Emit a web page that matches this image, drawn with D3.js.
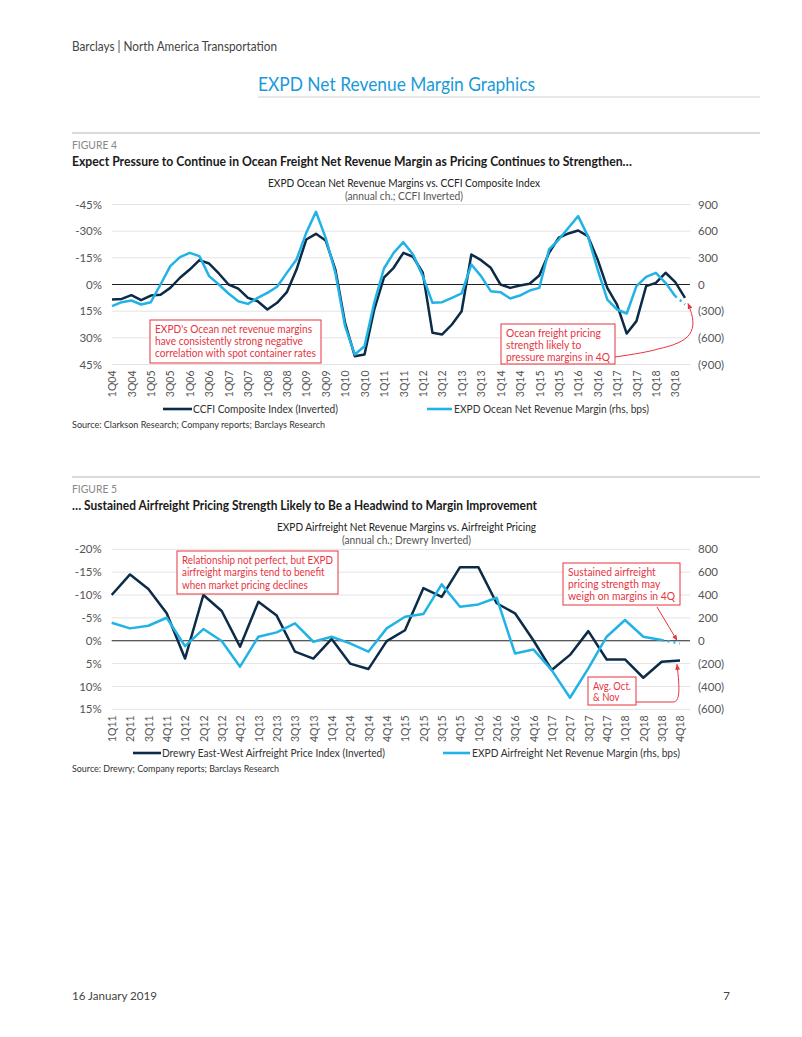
<!DOCTYPE html>
<html><head><meta charset="utf-8">
<script src="https://cdn.jsdelivr.net/npm/d3@7"></script>
<style>
html,body{margin:0;padding:0;background:#fff;}
svg{display:block;font-family:Lato,"Open Sans",sans-serif;}
</style></head>
<body>
<svg id="page" width="802" height="1037"></svg>
<script>
// ---------- DATA ----------
// Figure 4: quarterly 1Q04 .. 4Q18
const oceanQuarters = [];
for (let yr = 4; yr <= 18; yr++) for (let q = 1; q <= 4; q++) oceanQuarters.push(q + "Q" + String(yr).padStart(2, "0"));
// CCFI composite index, annual % change (plotted on inverted left axis)
const ccfiChange = [8.4, 8.1, 6.0, 8.8, 6.2, 5.8, 1.9, -3.8, -8.4, -13.7, -11.8, -6.2, 0, 2.3, 7.5, 9.4,
  14.1, 10.3, 4.3, -8.4, -25.3, -28.5, -24.8, -8.4, 21.6, 40.3, 39.4, 14.1, -3.8, -9.4, -17.8, -15.6,
  -6.6, 27.2, 28.1, 22.5, 15.0, -16.9, -13.7, -9.4, 0, 1.9, 0.6, -0.4, -5.1, -17.8, -26.3, -28.7,
  -30.4, -27.2, -14.1, 1.9, 11.3, 27.6, 20.6, 0.9, -0.9, -6.6, -1.3, 7.5];
// EXPD ocean net revenue margin, annual change (bps, rhs)
const oceanMarginBps = [-244, -199, -180, -225, -199, 0, 206, 308, 356, 319, 94, 0, -101, -188, -218, -150,
  -94, -26, 131, 281, 581, 818, 525, 131, -469, -788, -694, -206, 180, 356, 476, 338,
  94, -206, -199, -150, -101, 225, 94, -75, -86, -158, -124, -68, -38, 394, 506, 638,
  769, 544, 169, -169, -281, -326, -19, 86, 131, 19, -131, -225];
const oceanLeftTicks = [-45, -30, -15, 0, 15, 30, 45];
const oceanRightTicks = [900, 600, 300, 0, -300, -600, -900];

// Figure 5: quarterly 1Q11 .. 4Q18
const airQuarters = [];
for (let yr = 11; yr <= 18; yr++) for (let q = 1; q <= 4; q++) airQuarters.push(q + "Q" + yr);
// Drewry East-West airfreight price index, annual % change (inverted left axis)
const drewryChange = [-10.0, -14.5, -11.3, -6.0, 3.9, -10.0, -6.5, 1.3, -8.5, -5.5, 2.4, 3.9, -0.4, 5.0, 6.2, 0.1,
  -2.3, -11.5, -9.6, -16.1, -16.1, -8.2, -6.0, -0.1, 6.4, 3.1, -2.1, 4.1, 4.1, 8.1, 4.6, 4.3];
// EXPD airfreight net revenue margin, annual change (bps, rhs)
const airMarginBps = [157, 108, 131, 201, -47, 102, -3, -227, 35, 73, 152, -9, 35, -23, -96, 108,
  210, 233, 493, 297, 318, 376, -111, -76, -257, -499, -242, 35, 181, 35, 6, -23];
const airLeftTicks = [-20, -15, -10, -5, 0, 5, 10, 15];
const airRightTicks = [800, 600, 400, 200, 0, -200, -400, -600];

// ---------- STYLE ----------
const DARK = "#0c2b47", LIGHT = "#22b3e6", RED = "#e8343f", GRID = "#e3e3e3";
const svg = d3.select("#page");
const defs = svg.append("defs");
defs.append("marker").attr("id", "arr").attr("viewBox", "0 0 10 10").attr("refX", 9).attr("refY", 5)
  .attr("markerWidth", 6).attr("markerHeight", 6).attr("orient", "auto-start-reverse")
  .append("path").attr("d", "M0,1 L10,5 L0,9 z").attr("fill", RED);

function txt(g, x, y, s, o = {}) {
  const t = g.append("text").attr("x", x).attr("y", y).text(s)
    .attr("font-size", o.size || 11).attr("fill", o.fill || "#333")
    .attr("text-anchor", o.anchor || "start");
  if (o.weight) t.attr("font-weight", o.weight);
  if (o.len) t.attr("textLength", o.len).attr("lengthAdjust", "spacingAndGlyphs");
  return t;
}
const pct = d => d + "%";
const bps = d => d < 0 ? "(" + Math.abs(d) + ")" : String(d);

// ---------- PAGE HEADER ----------
txt(svg, 72, 51, "Barclays | North America Transportation", {size: 12.5, fill: "#444", len: 205});
txt(svg, 258, 91, "EXPD Net Revenue Margin Graphics", {size: 19, fill: "#1a9ad8", len: 277});
svg.append("line").attr("x1", 258).attr("x2", 760).attr("y1", 97).attr("y2", 97).attr("stroke", "#cfcfcf");

// ---------- CHART BUILDER ----------
function chart(cfg) {
  const g = svg.append("g");
  g.append("line").attr("x1", 72).attr("x2", 760).attr("y1", cfg.ruleY).attr("y2", cfg.ruleY).attr("stroke", "#b5b5b5");
  txt(g, 72, cfg.ruleY + 16, cfg.figLabel, {size: 11, fill: "#888", len: 45});
  txt(g, 72, cfg.ruleY + 33, cfg.figTitle, {size: 12.5, fill: "#1a1a1a", weight: "bold", len: cfg.figTitleLen});
  txt(g, cfg.titleX, cfg.titleY, cfg.title, {size: 11, fill: "#222", len: cfg.titleLen});
  txt(g, cfg.subX, cfg.titleY + 12.5, cfg.subtitle, {size: 10.5, fill: "#555", len: cfg.subLen});

  const x = d3.scalePoint().domain(cfg.cats).range([cfg.x0, cfg.x1]);
  const yL = d3.scaleLinear().domain([cfg.leftTicks[0], cfg.leftTicks[cfg.leftTicks.length - 1]]).range([cfg.yTop, cfg.yBot]);
  const yR = d3.scaleLinear().domain([cfg.rightTicks[0], cfg.rightTicks[cfg.rightTicks.length - 1]]).range([cfg.yTop, cfg.yBot]);

  // gridlines
  g.append("g").selectAll("line").data(cfg.leftTicks.filter(d => d !== 0)).join("line")
    .attr("x1", cfg.x0).attr("x2", cfg.gridEnd).attr("y1", d => yL(d)).attr("y2", d => yL(d))
    .attr("stroke", GRID).attr("stroke-width", 1);

  // left axis
  const ax = g.append("g").attr("transform", `translate(${cfg.x0 - 10},0)`)
    .call(d3.axisLeft(yL).tickValues(cfg.leftTicks).tickFormat(pct).tickSize(0).tickPadding(0));
  ax.select(".domain").remove();
  ax.selectAll("text").attr("font-size", 11.5).attr("fill", "#555").attr("font-family", "Lato");
  // right axis
  const ar = g.append("g").attr("transform", `translate(${cfg.gridEnd + 8},0)`)
    .call(d3.axisRight(yR).tickValues(cfg.rightTicks).tickFormat(bps).tickSize(0).tickPadding(0));
  ar.select(".domain").remove();
  ar.selectAll("text").attr("font-size", 11.5).attr("fill", "#555").attr("font-family", "Lato");
  // bottom axis (rotated labels)
  const ab = g.append("g").attr("transform", `translate(0,${cfg.yBot})`)
    .call(d3.axisBottom(x).tickValues(cfg.cats.filter((d, i) => i % cfg.every === 0)).tickSize(0));
  ab.select(".domain").remove();
  ab.selectAll("text").attr("transform", "rotate(-90)").attr("x", -6).attr("y", 0).attr("dy", "0.35em")
    .attr("text-anchor", "end").attr("font-size", 10.5).attr("fill", "#555").attr("font-family", "Lato");

  // zero line
  g.append("line").attr("x1", cfg.x0).attr("x2", cfg.gridEnd).attr("y1", yL(0)).attr("y2", yL(0))
    .attr("stroke", "#222").attr("stroke-width", 1.2);

  // series
  const lineL = d3.line().x((d, i) => x(cfg.cats[i])).y(d => yL(d));
  g.append("path").datum(cfg.left).attr("d", lineL).attr("fill", "none")
    .attr("stroke", DARK).attr("stroke-width", 2.5).attr("stroke-linejoin", "round");
  const n = cfg.right.length;
  const lineR = d3.line().x(d => x(cfg.cats[d[0]])).y(d => yR(d[1]));
  const rPts = cfg.right.map((v, i) => [i, v]);
  g.append("path").datum(rPts.slice(0, n - 1)).attr("d", lineR).attr("fill", "none")
    .attr("stroke", LIGHT).attr("stroke-width", 2.5).attr("stroke-linejoin", "round");
  g.append("path").datum(rPts.slice(n - 2)).attr("d", lineR).attr("fill", "none")
    .attr("stroke", LIGHT).attr("stroke-width", 2.5).attr("stroke-dasharray", "2,4");

  // legend
  const ly = cfg.legendY;
  g.append("line").attr("x1", cfg.leg1[0]).attr("x2", cfg.leg1[1]).attr("y1", ly).attr("y2", ly).attr("stroke", DARK).attr("stroke-width", 2.6);
  txt(g, cfg.leg1[1] + 1, ly + 4, cfg.leg1Text, {size: 11, fill: "#333", len: cfg.leg1[2]});
  g.append("line").attr("x1", cfg.leg2[0]).attr("x2", cfg.leg2[1]).attr("y1", ly).attr("y2", ly).attr("stroke", LIGHT).attr("stroke-width", 2.6);
  txt(g, cfg.leg2[1] + 2, ly + 4, cfg.leg2Text, {size: 11, fill: "#333", len: cfg.leg2[2]});
  txt(g, 72, cfg.sourceY, cfg.source, {size: 9.5, fill: "#333", len: cfg.sourceLen});
  return {g, x, yL, yR};
}

function note(g, box, lines, lineH) {
  g.append("rect").attr("x", box[0]).attr("y", box[1]).attr("width", box[2]).attr("height", box[3])
    .attr("fill", "#fff").attr("stroke", RED).attr("stroke-width", 1);
  const ts = lines.map((l, i) => txt(g, box[0] + 5, box[1] + 12.5 + i * lineH, l, {size: 11.3, fill: RED}));
  const lens = ts.map(t => t.node().getComputedTextLength());
  const f = Math.min(1, (box[2] - 10) / d3.max(lens));
  ts.forEach((t, i) => t.attr("textLength", lens[i] * f).attr("lengthAdjust", "spacingAndGlyphs"));
}

// ---------- FIGURE 4 ----------
const f4 = chart({
  ruleY: 133, figLabel: "FIGURE 4",
  figTitle: "Expect Pressure to Continue in Ocean Freight Net Revenue Margin as Pricing Continues to Strengthen…", figTitleLen: 560,
  title: "EXPD Ocean Net Revenue Margins vs. CCFI Composite Index", titleX: 268, titleLen: 272, titleY: 187,
  subtitle: "(annual ch.; CCFI Inverted)", subX: 345, subLen: 118,
  cats: oceanQuarters, x0: 112, x1: 685, gridEnd: 690, yTop: 204.5, yBot: 364.5, every: 2,
  leftTicks: oceanLeftTicks, rightTicks: oceanRightTicks, left: ccfiChange, right: oceanMarginBps,
  legendY: 409, leg1: [163, 192, 145], leg1Text: "CCFI Composite Index (Inverted)",
  leg2: [427, 452, 195], leg2Text: "EXPD Ocean Net Revenue Margin (rhs, bps)",
  sourceY: 428, source: "Source: Clarkson Research; Company reports; Barclays Research", sourceLen: 253
});
note(f4.g, [150, 320, 171, 43], ["EXPD's Ocean net revenue margins", "have consistently strong negative", "correlation with spot container rates"], 12.4);
note(f4.g, [501, 324, 114, 40], ["Ocean freight pricing", "strength likely to", "pressure margins in 4Q"], 12.2);
{
  const tx = f4.x(oceanQuarters[59]) + 3, ty = f4.yR(oceanMarginBps[59]) - 1;
  f4.g.append("path").attr("d", `M615,357 C635,354 648,352 658,349 C690,342 700,332 ${tx},${ty}`)
    .attr("fill", "none").attr("stroke", RED).attr("stroke-width", 1).attr("marker-end", "url(#arr)");
}

// ---------- FIGURE 5 ----------
const f5 = chart({
  ruleY: 477, figLabel: "FIGURE 5",
  figTitle: "… Sustained Airfreight Pricing Strength Likely to Be a Headwind to Margin Improvement", figTitleLen: 465,
  title: "EXPD Airfreight Net Revenue Margins vs. Airfreight Pricing", titleX: 277, titleLen: 259, titleY: 531,
  subtitle: "(annual ch.; Drewry Inverted)", subX: 342, subLen: 129,
  cats: airQuarters, x0: 111.7, x1: 680, gridEnd: 690, yTop: 549.3, yBot: 709.3, every: 1,
  leftTicks: airLeftTicks, rightTicks: airRightTicks, left: drewryChange, right: airMarginBps,
  legendY: 753, leg1: [133, 161, 223], leg1Text: "Drewry East-West Airfreight Price Index (Inverted)",
  leg2: [443, 470, 208], leg2Text: "EXPD Airfreight Net Revenue Margin (rhs, bps)",
  sourceY: 772, source: "Source: Drewry; Company reports; Barclays Research", sourceLen: 207
});
note(f5.g, [177, 551, 161, 43], ["Relationship not perfect, but EXPD", "airfreight margins tend to benefit", "when market pricing declines"], 12.5);
note(f5.g, [563, 563, 117, 42], ["Sustained airfreight", "pricing strength may", "weigh on margins in 4Q"], 12.2);
note(f5.g, [588, 677, 48, 28], ["Avg. Oct.", "& Nov"], 11.5);
{
  const tx = f5.x(airQuarters[31]) - 3, ty = f5.yR(airMarginBps[31]) - 3;
  f5.g.append("path").attr("d", `M657,607 L${tx},${ty}`)
    .attr("fill", "none").attr("stroke", RED).attr("stroke-width", 1).attr("marker-end", "url(#arr)");
  const dx = f5.x(airQuarters[31]) - 3, dy = f5.yL(drewryChange[31]) + 4;
  f5.g.append("path").attr("d", `M636,702 L673,702 C680,702 680,690 ${dx},${dy}`)
    .attr("fill", "none").attr("stroke", RED).attr("stroke-width", 1).attr("marker-end", "url(#arr)");
}

// ---------- FOOTER ----------
txt(svg, 72, 1000, "16 January 2019", {size: 11.5, fill: "#444", len: 85});
txt(svg, 730, 1000, "7", {size: 11.5, fill: "#444", anchor: "end"});
</script>
</body></html>
